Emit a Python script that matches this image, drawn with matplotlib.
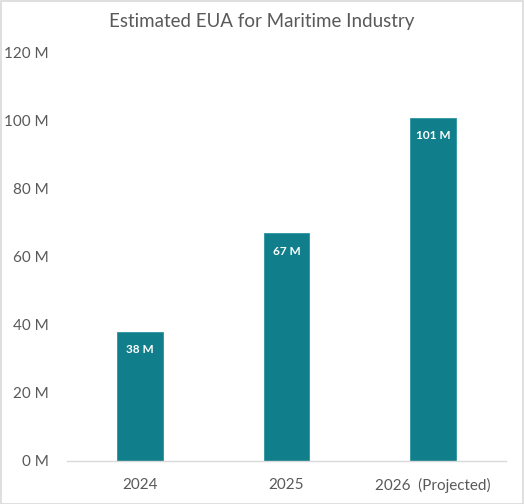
import matplotlib
matplotlib.use("Agg")
import matplotlib.pyplot as plt
from matplotlib.patches import Rectangle

categories = ["2024", "2025", "2026  (Projected)"]
values = [38, 67, 101]
value_labels = ["38 M", "67 M", "101 M"]
yticks = [0, 20, 40, 60, 80, 100, 120]
ytick_labels = ["0 M", "20 M", "40 M", "60 M", "80 M", "100 M", "120 M"]

plt.rcParams['font.family'] = ['Lato', 'DejaVu Sans']

W, H = 524, 504
fig = plt.figure(figsize=(W / 100, H / 100), dpi=100)
ax = fig.add_axes([67 / W, 1 - 461 / H, (506 - 67) / W, (461 - 53) / H])

bar_color = "#117E8B"
x = range(len(categories))
bars = ax.bar(x, values, width=0.31, color=bar_color, edgecolor="#2A95A0", linewidth=0.6, zorder=2)

for b, lab in zip(bars, value_labels):
    ax.annotate(lab, (b.get_x() + b.get_width() / 2, b.get_height()),
                xytext=(0, -13), textcoords="offset points", ha="center", va="center",
                color="white", fontsize=8.5, fontweight="bold")

ax.set_xlim(-0.5, len(categories) - 0.5)
ax.set_ylim(0, 120)
ax.set_yticks(yticks)
ax.set_yticklabels(ytick_labels)
ax.set_xticks(list(x))
ax.set_xticklabels(categories)

for s in ["top", "right", "left"]:
    ax.spines[s].set_visible(False)
ax.spines["bottom"].set_color("#D9D9D9")
ax.spines["bottom"].set_linewidth(1.0)
ax.tick_params(axis="both", length=0, colors="#595959", labelsize=11)
ax.tick_params(axis="y", pad=13)
ax.tick_params(axis="x", pad=12)

fig.text(0.5, 1 - 22 / H, "Estimated EUA for Maritime Industry", ha="center", va="center",
         fontsize=13.5, color="#595959")

fig.patches.append(Rectangle((0.5 / W, 0.5 / H), 1 - 1.5 / W, 1 - 1.5 / H, transform=fig.transFigure,
                             fill=False, edgecolor="#D9D9D9", linewidth=1.2))

fig.savefig("out.png", dpi=100)
